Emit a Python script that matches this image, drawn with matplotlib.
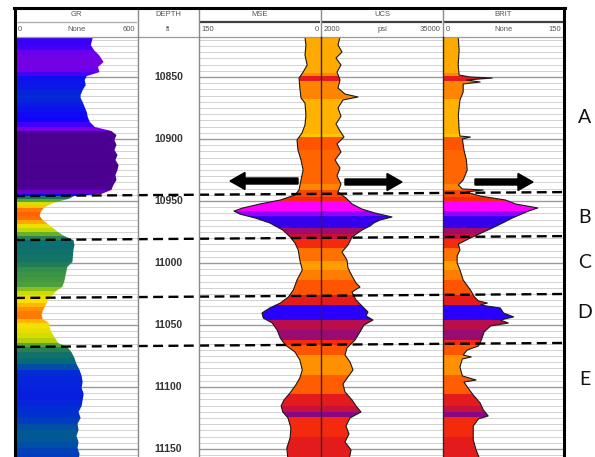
import matplotlib.pyplot as plt
from matplotlib.colors import LinearSegmentedColormap, Normalize
from matplotlib.patches import Polygon, FancyArrow
from matplotlib.lines import Line2D
from matplotlib.transforms import IdentityTransform, blended_transform_factory

W, H = 595, 457
HEAD_TOP, DATA_TOP = 8, 37            # header / data top in image pixels
TOP_DEPTH, BASE_DEPTH = 10817.7, 11156.5

# ---- log data (ft, value) ----
gr_depth = [10817.7, 10824.2, 10828.2, 10832.3, 10837.9, 10841.9, 10846.0, 10849.2, 10852.4, 10856.5,
            10860.5, 10864.5, 10866.9, 10870.2, 10874.2, 10878.2, 10882.3, 10886.3, 10890.3, 10893.5,
            10896.8, 10900.8, 10904.8, 10908.9, 10912.9, 10916.9, 10921.0, 10925.0, 10929.0, 10933.1,
            10937.1, 10941.1, 10944.4, 10946.0, 10948.4, 10950.8, 10953.2, 10955.6, 10958.9, 10962.1,
            10965.3, 10968.5, 10971.8, 10975.0, 10978.2, 10981.5, 10985.5, 10989.5, 10993.5, 10999.2,
            11003.2, 11007.3, 11011.3, 11015.3, 11019.4, 11022.6, 11025.8, 11029.0, 11032.3, 11035.5,
            11038.7, 11041.9, 11045.2, 11048.4, 11052.4, 11056.5, 11060.5, 11064.5, 11067.7, 11071.8,
            11076.6, 11081.5, 11086.3, 11091.1, 11096.0, 11100.8, 11105.6, 11110.5, 11115.3, 11120.2,
            11125.0, 11129.8, 11134.7, 11139.5, 11144.4, 11149.2, 11154.0, 11158.9]
gr = [380, 370, 385, 410, 432, 405, 412, 350, 340, 345,
      330, 320, 320, 330, 340, 350, 355, 365, 390, 470,
      495, 485, 495, 485, 500, 490, 505, 500, 490, 495,
      480, 470, 420, 290, 260, 200, 165, 140, 125, 120,
      135, 160, 185, 210, 240, 285, 290, 285, 283, 280,
      255, 250, 245, 240, 230, 200, 185, 165, 155, 145,
      135, 130, 135, 165, 170, 180, 195, 210, 255, 275,
      290, 300, 315, 325, 330, 325, 335, 330, 325, 310,
      320, 305, 310, 300, 310, 305, 315, 310]

mse_depth = [10817.7, 10824.2, 10832.3, 10840.3, 10846.0, 10850.8, 10858.9, 10866.9, 10871.0, 10880.6,
             10888.7, 10895.2, 10900.8, 10908.9, 10916.9, 10925.0, 10933.1, 10941.1, 10945.2, 10949.2,
             10952.4, 10955.6, 10958.1, 10960.5, 10963.7, 10967.7, 10973.4, 10979.0, 10983.9, 10989.5,
             10997.6, 11005.6, 11013.7, 11021.8, 11027.4, 11032.3, 11036.3, 11040.3, 11044.4, 11048.4,
             11054.0, 11060.5, 11066.1, 11071.8, 11078.2, 11086.3, 11092.7, 11098.4, 11104.8, 11110.5,
             11115.3, 11120.2, 11125.0, 11133.1, 11141.1, 11149.2, 11158.9]
mse = [19.7, 18.5, 19.7, 17, 22, 27, 26, 24.6, 19.7, 18.5,
       19.7, 23.4, 29.5, 28.3, 24.6, 22, 24.6, 27, 32, 50,
       75, 96, 107, 100, 81, 63, 47, 38, 32, 28,
       26, 23, 29.5, 34, 40, 50, 63, 72.5, 71, 60,
       54, 50, 44, 32, 26, 23, 26, 31, 38, 45.5,
       49, 47, 40.6, 37, 38, 42, 40.6]

ucs_depth = [10817.7, 10824.2, 10829.8, 10834.7, 10840.3, 10846.0, 10852.4, 10858.9, 10863.7, 10866.1,
             10868.5, 10875.0, 10881.5, 10887.9, 10893.5, 10898.4, 10904.0, 10910.5, 10916.9, 10923.4,
             10929.8, 10936.3, 10942.7, 10947.6, 10952.4, 10956.5, 10959.7, 10962.9, 10965.3, 10967.7,
             10970.2, 10973.4, 10979.0, 10985.5, 10991.1, 10997.6, 11004.0, 11010.5, 11016.1, 11019.4,
             11023.4, 11029.8, 11034.7, 11039.5, 11042.7, 11046.0, 11050.0, 11055.6, 11062.1, 11068.5,
             11074.2, 11079.8, 11086.3, 11091.9, 11097.6, 11104.0, 11110.5, 11115.3, 11120.2, 11125.0,
             11131.5, 11137.9, 11144.4, 11150.8, 11158.9]
ucs = [7140, 6600, 7680, 6060, 7410, 6330, 7140, 6600, 8490, 12000,
       7950, 6600, 7410, 6060, 7140, 8220, 6330, 7410, 5790, 7140,
       6330, 7410, 6600, 8760, 10390, 13090, 16600, 21200, 18000, 16300,
       15250, 13090, 10390, 9300, 7680, 9030, 9300, 10390, 11470, 12550,
       10390, 11470, 13090, 14700, 14200, 16070, 13630, 12550, 11200, 9030,
       8490, 9840, 10660, 9300, 7950, 8490, 10390, 11470, 12820, 9840,
       8760, 9570, 8490, 10120, 9570]

brit_depth = [10817.7, 10828.2, 10840.3, 10848.4, 10850.0, 10850.8, 10852.4, 10854.0, 10855.6, 10862.1,
              10868.5, 10880.6, 10892.7, 10897.6, 10898.4, 10900.0, 10908.9, 10916.9, 10925.0, 10933.1,
              10937.1, 10940.3, 10941.1, 10942.7, 10946.0, 10949.2, 10952.4, 10955.6, 10958.1, 10960.5,
              10963.7, 10967.7, 10971.8, 10975.8, 10979.8, 10984.7, 10989.5, 10994.4, 11000.0, 11005.6,
              11013.7, 11021.8, 11027.4, 11030.6, 11032.3, 11033.9, 11036.3, 11040.3, 11043.5, 11046.0,
              11048.4, 11050.8, 11055.6, 11062.1, 11066.9, 11070.2, 11074.2, 11075.8, 11077.4, 11083.9,
              11091.1, 11094.4, 11096.0, 11100.8, 11106.5, 11112.9, 11118.5, 11123.4, 11125.8, 11131.5,
              11142.7, 11150.8, 11158.9]
brit = [18.8, 20, 18.8, 20, 34, 61, 29, 46, 25, 25,
        21, 19, 20, 21, 34, 24, 26, 29, 30, 25,
        19, 24, 50, 29, 46, 77.5, 90, 117.5, 106, 97.5,
        86, 74, 61, 47.5, 34, 19, 21, 17.5, 17.5, 21,
        25, 34, 39, 44, 55, 46, 71, 75, 87.5, 71,
        81, 59, 51, 47.5, 44, 30, 25, 35, 24, 21,
        24, 41, 26, 31, 37.5, 46, 50, 56, 44, 37.5,
        37.5, 41, 46]

# rock shading bands shared by MSE / UCS / BRIT (band tops, shade index 0..1)
rock_top = [10815, 10847, 10849.5, 10853, 10868, 10896, 10898, 10909, 10936, 10941,
            10947, 10950, 10958, 10962, 10972, 10977, 10981, 10988, 10998, 11006,
            11014, 11026, 11034, 11046, 11054, 11062, 11066, 11074, 11090, 11106,
            11115, 11120, 11124, 11140, 11160]
rock_shade = [0.15, 0.3, 0.55, 0.3, 0.12, 0.05, 0.42, 0.38, 0.3, 0.45,
              0.5, 1.0, 0.93, 0.85, 0.7, 0.62, 0.5, 0.35, 0.2, 0.32,
              0.42, 0.55, 0.87, 0.65, 0.72, 0.5, 0.42, 0.25, 0.4, 0.55,
              0.62, 0.74, 0.5, 0.55]

zone_bounds = [10946.0, 10981.5, 11028.2, 11067.7]
zone_labels = ['A', 'B', 'C', 'D', 'E']
zone_label_depth = [10883, 10963, 11000, 11040, 11094]
depth_labels = [10850, 10900, 10950, 11000, 11050, 11100, 11150]

# ---- colour maps ----
gr_nodes = [(100, '#ff3000'), (125, '#ff6a00'), (140, '#ff9000'), (160, '#ffe000'),
            (195, '#c8dc00'), (235, '#4aa03a'), (270, '#1e7a5a'), (300, '#00687e'),
            (316, '#0030d0'), (360, '#1400ff'), (395, '#6a00f0'), (435, '#7a00e0'),
            (470, '#4e0098'), (520, '#480088')]
gr_norm = Normalize(100, 520)
gr_cmap = LinearSegmentedColormap.from_list('gr', [(gr_norm(v), c) for v, c in gr_nodes])
rock_cmap = LinearSegmentedColormap.from_list('rock', [
    (0.0, '#ffd000'), (0.15, '#ffaa00'), (0.3, '#ff8400'), (0.42, '#ff5500'),
    (0.52, '#f02010'), (0.62, '#c8103c'), (0.72, '#9a0a70'), (0.8, '#5a00c0'),
    (0.87, '#2800ff'), (0.93, '#9000ff'), (1.0, '#ff00ff')])

fig = plt.figure(figsize=(W / 100, H / 100), dpi=100)


def px_axes(x0, x1, y0, y1):
    # image pixel box -> figure axes
    return fig.add_axes([x0 / W, (H - y1) / H, (x1 - x0) / W, (y1 - y0) / H])


def track(x0, x1, xlim, grid=True):
    ax = px_axes(x0, x1, DATA_TOP, H)
    ax.set_xlim(*xlim)
    ax.set_ylim(BASE_DEPTH, TOP_DEPTH)
    ax.set_axis_off()
    if grid:
        for d in range(10820, 11160, 5):
            major = d % 50 == 0
            ax.axhline(d, color='#9a9a9a' if major else '#d2d2d2', lw=1.0 if major else 0.7, zorder=0.5)
    return ax


def banded_fill(ax, depth, values, base, tops, shades, cmap, outline=True):
    verts = [(base, depth[0])] + list(zip(values, depth)) + [(base, depth[-1])]
    poly = Polygon(verts, closed=True, facecolor='none', edgecolor='none')
    ax.add_patch(poly)
    for top, bot, s in zip(tops[:-1], tops[1:], shades):
        span = ax.axhspan(top, bot, color=cmap(s), lw=0, antialiased=False, zorder=1)
        span.set_clip_path(poly)
    if outline:
        ax.plot(values, depth, color='#1a1a1a', lw=0.8, zorder=3)


# GR
ax_gr = track(15, 138, (0, 600))
gr_shade = [gr_norm((a + b) / 2) for a, b in zip(gr[:-1], gr[1:])]
banded_fill(ax_gr, gr_depth, gr, 0, gr_depth, gr_shade, gr_cmap, outline=False)

# DEPTH
ax_d = track(138, 199, (0, 1), grid=False)
for d in depth_labels:
    ax_d.text(0.5, d, str(d), ha='center', va='center', fontsize=7.5, fontweight='bold',
              color='#333333', family='Liberation Sans')

# MSE (150 left -> 0 right)
ax_mse = track(199, 321, (150, 0))
banded_fill(ax_mse, mse_depth, mse, 0, rock_top, rock_shade, rock_cmap)

# UCS
ax_ucs = track(321, 443, (2000, 35000))
banded_fill(ax_ucs, ucs_depth, ucs, 2000, rock_top, rock_shade, rock_cmap)

# BRIT
ax_br = track(443, 564, (0, 150))
banded_fill(ax_br, brit_depth, brit, 0, rock_top, rock_shade, rock_cmap)

# ---- headers ----
headers = [(15, 138, 'GR', '0', 'None', '600', '#b0b0b0', 1.0),
           (138, 199, 'DEPTH', '', 'ft', '', None, 0),
           (199, 321, 'MSE', '150', '', '0', '#404040', 1.6),
           (321, 443, 'UCS', '2000', 'psi', '35000', '#404040', 1.6),
           (443, 564, 'BRIT', '0', 'None', '150', '#404040', 1.6)]
hfont = dict(fontsize=5.5, color='#555555', family='Liberation Sans', va='center')
for x0, x1, name, left, unit, right, lc, lw in headers:
    hax = px_axes(x0, x1, HEAD_TOP, DATA_TOP)
    hax.set_axis_off()
    hax.set_xlim(0, 1)
    hax.set_ylim(0, 1)
    hax.text(0.5, 0.79, name, ha='center', **hfont)
    if lw:
        hax.plot([0.02, 0.98], [0.53, 0.53], color=lc, lw=lw)
    hax.text(0.02, 0.27, left, ha='left', **hfont)
    hax.text(0.5, 0.27, unit, ha='center', **hfont)
    hax.text(0.98, 0.27, right, ha='right', **hfont)


def fig_line(xs, ys, **kw):
    fig.add_artist(Line2D(xs, [H - y for y in ys], transform=IdentityTransform(), **kw))


fig_line([15, 564], [DATA_TOP, DATA_TOP], color='#9a9a9a', lw=0.9)
for x in (138, 199):
    fig_line([x, x], [HEAD_TOP, H + 5], color='#8a8a8a', lw=1.0)
for x in (321, 443):
    fig_line([x, x], [HEAD_TOP, DATA_TOP], color='#8a8a8a', lw=1.0)
    fig_line([x, x], [DATA_TOP, H + 5], color='#2a2a2a', lw=1.0)
# outer frame
fig_line([15, 15], [HEAD_TOP, H + 5], color='black', lw=2.2)
fig_line([564, 564], [HEAD_TOP, H + 5], color='black', lw=2.2)
fig_line([14, 565], [HEAD_TOP, HEAD_TOP], color='black', lw=2.2)

# ---- zone annotations ----
oax = px_axes(15, 564, DATA_TOP, H)
oax.set_axis_off()
oax.patch.set_alpha(0)
oax.set_xlim(0, 1)
oax.set_ylim(BASE_DEPTH, TOP_DEPTH)
for d in zone_bounds:
    oax.plot([0, 1.003], [d, d - 3.2], color='black', lw=1.7, dashes=(4.2, 2.3), clip_on=False)
trans = blended_transform_factory(oax.transAxes, oax.transData)
for lab, d in zip(zone_labels, zone_label_depth):
    oax.text(1.038, d, lab, transform=trans, ha='center', va='center', fontsize=14,
             family='Lato', color='#111111', clip_on=False)

for x, y, tip in [(298, 181, 230), (345, 182, 402), (475, 182, 533)]:
    fig.add_artist(FancyArrow(x, H - y, tip - x, 0, width=6, head_width=17, head_length=15,
                              length_includes_head=True, color='black', transform=IdentityTransform()))

fig.savefig('out.png', dpi=100)
